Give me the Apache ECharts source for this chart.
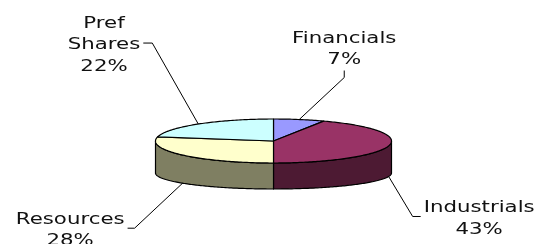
<!DOCTYPE html>
<html>
<head>
<meta charset="utf-8">
<script src="https://cdn.jsdelivr.net/npm/echarts@6/dist/echarts.min.js"></script>
<style>
  html, body { margin: 0; padding: 0; background: #fff; }
  #container { width: 538px; height: 244px; }
</style>
</head>
<body>
<div id="container"></div>
<script>
// slices, clockwise from 12 o'clock
const categories = ['Financials', 'Industrials', 'Resources', 'Pref Shares'];
const labelNames = ['Financials', 'Industrials', 'Resources', 'Pref\nShares'];
const shares = [7, 43, 28, 22];
const topColors = ['#9999FF', '#993366', '#FFFFCC', '#CCFFFF'];
const sideColors = ['#4C4C80', '#4D1A33', '#7F7F62', '#668080'];

// pie geometry (pixels)
const pie = { cx: 273.5, cy: 141, rx: 118, ry: 22, depth: 32, ryBottom: 16 };
// leader lines: elbow offset from slice anchor, then short tick
const leaders = [
  { elbow: [45, -42], tick: [0, -7], side: 'top' },
  { elbow: [24, 40], tick: [8, 0], side: 'right' },
  { elbow: [-48, 45], tick: [-7, 0], side: 'left' },
  { elbow: [-46, -81], tick: [-9, 0], side: 'left' }
];
const font = { size: 15, family: 'DejaVu Sans', scaleX: 1.42, lineHeight: 21.5, dy: 2.5 };

let dom = document.getElementById('container');
let myChart = echarts.init(dom);

const total = shares.reduce((a, b) => a + b, 0);
let acc = 0;
const sliceData = shares.map(function (v, i) {
  const a1 = acc / total * 360;
  acc += v;
  const a2 = acc / total * 360;
  return [a1, a2, i, v];
});

function topPt(deg) {
  const r = deg * Math.PI / 180;
  return [pie.cx + pie.rx * Math.sin(r), pie.cy - pie.ry * Math.cos(r)];
}
function botPt(deg) {
  const r = deg * Math.PI / 180;
  return [pie.cx + pie.rx * Math.sin(r), pie.cy + pie.depth - pie.ryBottom * Math.cos(r)];
}

const measureCtx = document.createElement('canvas').getContext('2d');
measureCtx.font = font.size + 'px "' + font.family + '"';
function blockWidth(text) {
  return Math.max.apply(null, text.split('\n').map(t => measureCtx.measureText(t).width)) * font.scaleX;
}

function renderSlice(params, api) {
  const a1 = api.value(0), a2 = api.value(1), i = api.value(2);
  const children = [];

  // outer wall (front half only)
  const s = Math.max(a1, 90), e = Math.min(a2, 270);
  if (s < e) {
    const pts = [];
    for (let d = s; d < e; d += 1) pts.push(topPt(d));
    pts.push(topPt(e));
    for (let d = e; d > s; d -= 1) pts.push(botPt(d));
    pts.push(botPt(s));
    children.push({
      type: 'polygon',
      shape: { points: pts },
      style: { fill: sideColors[i], stroke: '#000', lineWidth: 1.2, lineJoin: 'round' }
    });
  }

  // top face
  const top = [[pie.cx, pie.cy]];
  for (let d = a1; d < a2; d += 1) top.push(topPt(d));
  top.push(topPt(a2));
  children.push({
    type: 'polygon',
    shape: { points: top },
    style: { fill: topColors[i], stroke: '#000', lineWidth: 1.2, lineJoin: 'round' }
  });

  // label + leader line
  const mid = (a1 + a2) / 2;
  const anchor = (mid > 90 && mid < 270) ? botPt(mid) : topPt(mid);
  const L = leaders[i];
  const elbow = [anchor[0] + L.elbow[0], anchor[1] + L.elbow[1]];
  const end = [elbow[0] + L.tick[0], elbow[1] + L.tick[1]];
  children.push({
    type: 'polyline',
    shape: { points: [anchor, elbow, end] },
    style: { stroke: '#000', lineWidth: 1, fill: null }
  });

  const text = labelNames[i] + '\n' + api.value(3) + '%';
  const w = blockWidth(text);
  const nLines = text.split('\n').length;
  let tx = end[0], ty = end[1] + font.dy;
  if (L.side === 'top') {
    ty = end[1] - 2 - nLines * font.lineHeight / 2 + font.dy;
  } else if (L.side === 'left') {
    tx = end[0] - 3 - w / 2;
  } else {
    tx = end[0] + 3 + w / 2;
  }
  children.push({
    type: 'text',
    x: tx,
    y: ty,
    scaleX: font.scaleX,
    style: {
      text: text,
      fontSize: font.size,
      fontFamily: font.family,
      lineHeight: font.lineHeight,
      fill: '#111',
      align: 'center',
      verticalAlign: 'middle'
    }
  });

  return { type: 'group', children: children };
}

let option = {
  animation: false,
  series: [{
    type: 'custom',
    coordinateSystem: 'none',
    renderItem: renderSlice,
    data: sliceData
  }]
};

myChart.setOption(option);
</script>
</body>
</html>
